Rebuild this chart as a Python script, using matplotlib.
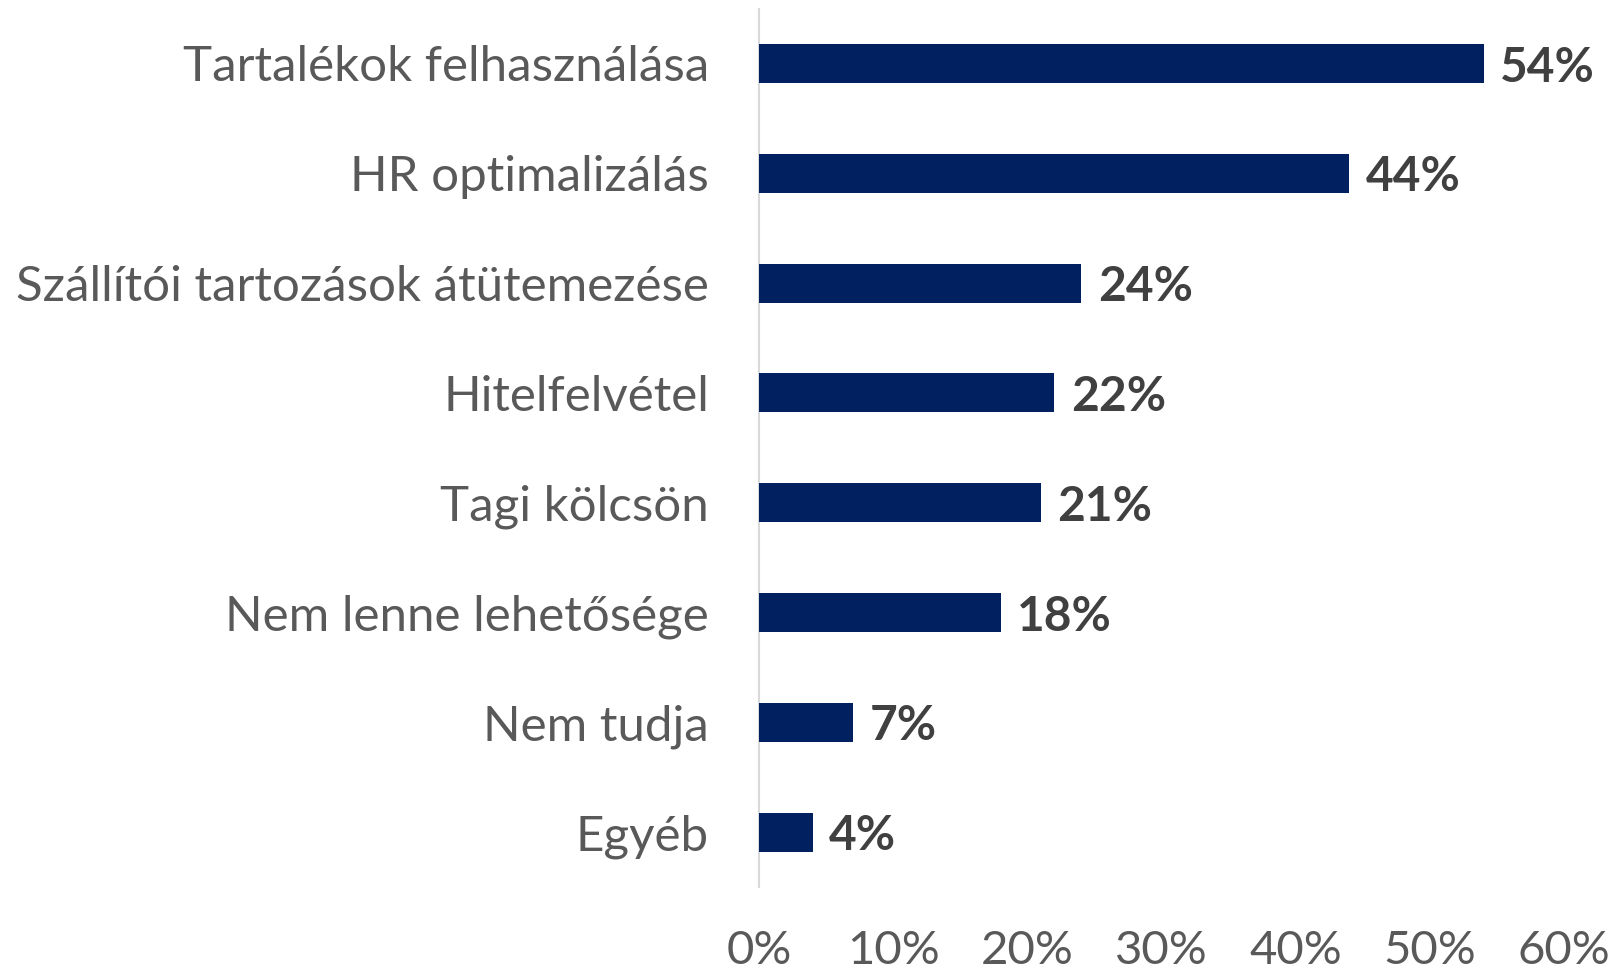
import matplotlib
matplotlib.use("Agg")
import matplotlib.pyplot as plt
import numpy as np

categories = [
    "Tartalékok felhasználása",
    "HR optimalizálás",
    "Szállítói tartozások átütemezése",
    "Hitelfelvétel",
    "Tagi kölcsön",
    "Nem lenne lehetősége",
    "Nem tudja",
    "Egyéb",
]
values = [54, 44, 24, 22, 21, 18, 7, 4]
xticks = [0, 10, 20, 30, 40, 50, 60]
xtick_labels = ["0%", "10%", "20%", "30%", "40%", "50%", "60%"]

W, H = 1611, 976
fig = plt.figure(figsize=(W / 100, H / 100), dpi=100)
ax = fig.add_axes([759 / W, 89 / H, 805 / W, 878.5 / H])

y = np.arange(len(categories))
ax.barh(y, values, height=0.355, color="#002060", zorder=3)
ax.set_ylim(len(categories) - 0.5, -0.5)
ax.set_xlim(0, 60)

for yi, v in zip(y, values):
    ax.annotate(f"{v}%", xy=(v, yi), xytext=(12, -3), textcoords="offset points",
                ha="left", va="center", fontsize=34.5, fontweight="bold",
                color="#404040", family=["Lato", "DejaVu Sans"])

ax.set_yticks(y)
ax.set_yticklabels(categories, fontsize=35.5, color="#595959", family=["Lato", "DejaVu Sans"])
ax.set_xticks(xticks)
ax.set_xticklabels(xtick_labels, fontsize=34, color="#595959", family=["Lato", "DejaVu Sans"])
ax.tick_params(axis="y", length=0, pad=36)
ax.tick_params(axis="x", length=0, pad=31)

for s in ["top", "right", "bottom"]:
    ax.spines[s].set_visible(False)
ax.spines["left"].set_color("#d9d9d9")
ax.spines["left"].set_linewidth(1.5)

fig.savefig("out.png", dpi=100)
